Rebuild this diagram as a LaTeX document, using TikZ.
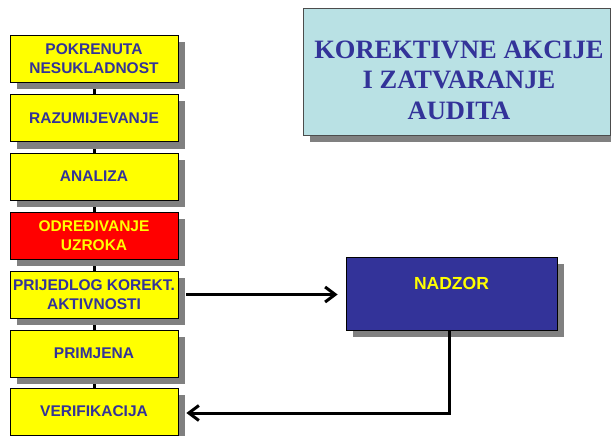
\documentclass[tikz,border=0pt]{standalone}
\usepackage{fontspec}
\setmainfont{Liberation Sans}
\newfontfamily\titlefont{Liberation Serif}
\usetikzlibrary{shadows,arrows.meta,backgrounds}
\definecolor{textblue}{RGB}{51,51,153}
\definecolor{boxyellow}{RGB}{255,255,0}
\definecolor{boxred}{RGB}{255,0,0}
\definecolor{titlecyan}{RGB}{185,225,228}
\definecolor{shadowgray}{RGB}{128,128,128}

\begin{document}
\begin{tikzpicture}[x=1pt, y=-1pt,
    shadowed/.style={general shadow={fill=shadowgray, shadow xshift=7pt, shadow yshift=-7pt}},
    stepbox/.style={shadowed, draw=black, line width=0.8pt, fill=boxyellow, text=textblue,
        minimum width=168pt, minimum height=47pt, inner sep=0pt, align=center,
        font=\fontsize{15.5}{19}\selectfont\bfseries},
    redbox/.style={stepbox, fill=boxred, text=boxyellow},
    titlebox/.style={shadowed, draw=black!70, line width=0.8pt, fill=titlecyan,
        minimum width=307pt, minimum height=127pt, inner sep=0pt},
    nadzorbox/.style={shadowed, draw=black, line width=0.8pt, fill=textblue,
        minimum width=211pt, minimum height=73pt, inner sep=0pt},
    link/.style={line width=3pt},
    arrowlink/.style={line width=3pt, -{Straight Barb[length=10pt, width=15pt]}}]
  \useasboundingbox (0,0) rectangle (611,436);
  % lijevi stupac
  \node[stepbox] (pokrenuta) at (94,59) {POKRENUTA\\NESUKLADNOST};
  \node[stepbox] (razumijevanje) at (94,118) {RAZUMIJEVANJE};
  \node[stepbox] (analiza) at (94,176.5) {ANALIZA};
  \node[redbox] (uzrok) at (94,235.5) {ODREĐIVANJE\\UZROKA};
  \node[stepbox] (prijedlog) at (94,294.5) {PRIJEDLOG KOREKT.\\AKTIVNOSTI};
  \node[stepbox] (primjena) at (94,353.5) {PRIMJENA};
  \node[stepbox] (verifikacija) at (94,411.5) {VERIFIKACIJA};
  \begin{scope}[on background layer]
    \draw[link] (pokrenuta.south) -- (razumijevanje.north);
    \draw[link] (razumijevanje.south) -- (analiza.north);
    \draw[link] (analiza.south) -- (uzrok.north);
    \draw[link] (uzrok.south) -- (prijedlog.north);
    \draw[link] (prijedlog.south) -- (primjena.north);
    \draw[link] (primjena.south) -- (verifikacija.north);
  \end{scope}
  % naslov
  \node[titlebox] (naslov) at (456.5,71.5) {};
  \node[text=textblue, align=center, font=\titlefont\fontsize{26.5}{30.5}\selectfont\bfseries]
    (naslovtxt) at (459,80) {KOREKTIVNE AKCIJE\\I ZATVARANJE\\AUDITA};
  % nadzor
  \node[nadzorbox] (nadzor) at (451.5,293.5) {};
  \node[text=boxyellow, font=\fontsize{17.5}{20}\selectfont\bfseries] (nadzortxt) at (451.5,283) {NADZOR};
  \draw[arrowlink] ([xshift=8pt]prijedlog.east) -- ([xshift=-8pt]prijedlog.east -| nadzor.west);
  \draw[arrowlink] ([xshift=-2.5pt]nadzor.south) |- ([xshift=8pt,yshift=-1.5pt]verifikacija.east);
\end{tikzpicture}
\end{document}
